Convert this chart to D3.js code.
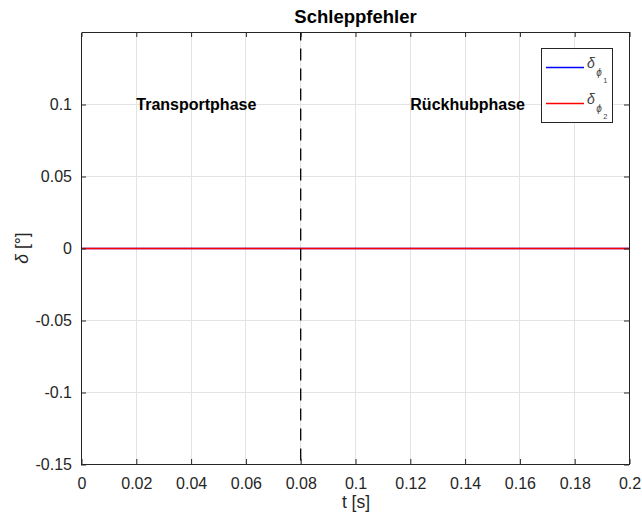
<!DOCTYPE html>
<html>
<head>
<meta charset="utf-8">
<script src="https://cdn.jsdelivr.net/npm/d3@7"></script>
<style>
  html, body { margin: 0; padding: 0; background: #fff; }
  svg { display: block; font-family: "Liberation Sans", Arial, Helvetica, sans-serif; }
</style>
</head>
<body>
<svg id="chart" width="642" height="522"></svg>
<script>
// ---- data ----
const timeValues = [0, 0.02, 0.04, 0.06, 0.08, 0.1, 0.12, 0.14, 0.16, 0.18, 0.2];
const delta1Values = [0, 0, 0, 0, 0, 0, 0, 0, 0, 0, 0];
const delta2Values = [0, 0, 0, 0, 0, 0, 0, 0, 0, 0, 0];
const xTicks = [0, 0.02, 0.04, 0.06, 0.08, 0.1, 0.12, 0.14, 0.16, 0.18, 0.2];
const xTickLabels = ["0", "0.02", "0.04", "0.06", "0.08", "0.1", "0.12", "0.14", "0.16", "0.18", "0.2"];
const yTicks = [-0.15, -0.1, -0.05, 0, 0.05, 0.1];
const yTickLabels = ["-0.15", "-0.1", "-0.05", "0", "0.05", "0.1"];
const xDomain = [0, 0.2];
const yDomain = [-0.15, 0.15];
const phaseBoundary = [0.08];
const phaseLabels = ["Transportphase", "Rückhubphase"];
const phaseLabelX = [0.02, 0.12];
const phaseLabelY = [0.1, 0.1];
const seriesNames = [["δ", "ϕ", "1"], ["δ", "ϕ", "2"]];
const seriesColors = ["#0000ff", "#ff0000"];

// ---- layout ----
const L = 81, R = 629, T = 32, B = 464;
const axisColor = "#262626";
const svg = d3.select("#chart");

const x = d3.scaleLinear().domain(xDomain).range([L + 0.5, R + 0.5]);
const y = d3.scaleLinear().domain(yDomain).range([B + 0.5, T + 0.5]);

svg.append("rect").attr("x", L).attr("y", T).attr("width", R - L).attr("height", B - T).attr("fill", "#fff");

// grid
const grid = svg.append("g").attr("stroke", "#e3e3e3").attr("stroke-width", 1);
grid.selectAll("line.gx").data(xTicks.filter(d => d > xDomain[0] && d < xDomain[1])).join("line")
  .attr("x1", d => Math.round(x(d) - 0.5) + 0.5).attr("x2", d => Math.round(x(d) - 0.5) + 0.5)
  .attr("y1", T).attr("y2", B);
grid.selectAll("line.gy").data(yTicks.filter(d => d > yDomain[0] && d < yDomain[1])).join("line")
  .attr("y1", d => Math.round(y(d) - 0.5) + 0.5).attr("y2", d => Math.round(y(d) - 0.5) + 0.5)
  .attr("x1", L).attr("x2", R);

// series lines
const data = timeValues.map((t, i) => ({ t, d1: delta1Values[i], d2: delta2Values[i] }));
const line1 = d3.line().x(d => x(d.t)).y(d => y(d.d1));
const line2 = d3.line().x(d => x(d.t)).y(d => y(d.d2));
svg.append("path").datum(data).attr("d", line1).attr("fill", "none")
  .attr("stroke", seriesColors[0]).attr("stroke-width", 1.3);
svg.append("path").datum(data).attr("d", line2).attr("fill", "none")
  .attr("stroke", seriesColors[1]).attr("stroke-width", 1.3);

// phase boundary dashed line
svg.selectAll("line.phase").data(phaseBoundary).join("line")
  .attr("x1", d => x(d)).attr("x2", d => x(d))
  .attr("y1", y(yDomain[1])).attr("y2", y(yDomain[0]))
  .attr("stroke", "#000").attr("stroke-width", 1.3)
  .attr("stroke-dasharray", "12,8").attr("stroke-dashoffset", 4);

// phase labels
svg.selectAll("text.phase").data(phaseLabels).join("text")
  .attr("x", (d, i) => x(phaseLabelX[i]))
  .attr("y", (d, i) => y(phaseLabelY[i]))
  .attr("dy", "0.36em")
  .attr("font-size", 16).attr("font-weight", "bold").attr("fill", "#000")
  .text(d => d);

// axes
function styleAxis(g) {
  g.selectAll("path.domain").attr("stroke", axisColor).attr("stroke-width", 1);
  g.selectAll(".tick line").attr("stroke", axisColor);
  g.selectAll(".tick text").attr("fill", axisColor).attr("font-size", 16)
    .attr("font-family", "'Liberation Sans', Arial, sans-serif");
}
const xAxisB = d3.axisBottom(x).tickValues(xTicks).tickFormat((d, i) => xTickLabels[i])
  .tickSizeInner(-5).tickSizeOuter(0).tickPadding(14);
svg.append("g").attr("transform", `translate(0,${B})`).call(xAxisB).call(styleAxis);

const xAxisT = d3.axisTop(x).tickValues(xTicks).tickFormat("").tickSizeInner(-5).tickSizeOuter(0);
svg.append("g").attr("transform", `translate(0,${T})`).call(xAxisT).call(styleAxis);

const yAxisL = d3.axisLeft(y).tickValues(yTicks).tickFormat((d, i) => yTickLabels[i])
  .tickSizeInner(-5).tickSizeOuter(0).tickPadding(9);
svg.append("g").attr("transform", `translate(${L},0)`).call(yAxisL).call(styleAxis);

const yAxisR = d3.axisRight(y).tickValues(yTicks).tickFormat("").tickSizeInner(-5).tickSizeOuter(0);
svg.append("g").attr("transform", `translate(${R},0)`).call(yAxisR).call(styleAxis);

svg.selectAll("g").attr("font-family", null);

// title
svg.append("text").attr("x", (L + R) / 2 + 0.5).attr("y", 23)
  .attr("text-anchor", "middle").attr("font-size", 18.5).attr("font-weight", "bold").attr("fill", "#000")
  .text("Schleppfehler");

// x label
svg.append("text").attr("x", (L + R) / 2 + 1).attr("y", 508)
  .attr("text-anchor", "middle").attr("font-size", 17.5).attr("fill", axisColor)
  .text("t [s]");

// y label
const yl = svg.append("text").attr("transform", `translate(28,${(T + B) / 2}) rotate(-90)`)
  .attr("text-anchor", "middle").attr("font-size", 17.5).attr("fill", axisColor);
yl.append("tspan").attr("font-style", "italic").text("δ");
yl.append("tspan").text(" [°]");

// legend
const lg = svg.append("g");
lg.append("rect").attr("x", 541.5).attr("y", 48.5).attr("width", 71).attr("height", 74)
  .attr("fill", "#fff").attr("stroke", axisColor).attr("stroke-width", 1);
const legendRowY = [67.5, 103.5];
seriesNames.forEach((nm, i) => {
  const ly = legendRowY[i];
  lg.append("line").attr("x1", 546).attr("x2", 584).attr("y1", ly).attr("y2", ly)
    .attr("stroke", seriesColors[i]).attr("stroke-width", 1.6);
  const t = lg.append("text").attr("x", 587).attr("y", ly + 0.5).attr("fill", "#444");
  t.append("tspan").attr("font-size", 14).attr("font-style", "italic").text(nm[0]);
  t.append("tspan").attr("font-size", 10).attr("font-style", "italic")
    .attr("dx", 1.5).attr("dy", 8).text(nm[1]);
  t.append("tspan").attr("font-size", 7.5).attr("dx", 1.5).attr("dy", 7).text(nm[2]);
});
</script>
</body>
</html>
